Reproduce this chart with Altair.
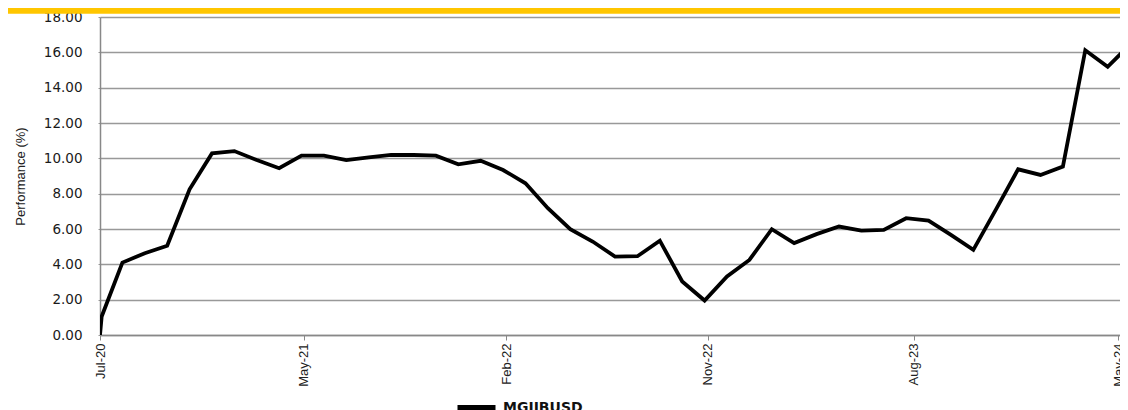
import json
import altair as alt
import pandas as pd

# ---- data ----
# x position in monthly steps (first two points: inception and first month-end)
steps = [0, 0.075] + list(range(1, 47))
perf = [0.00, 1.05, 4.10, 4.63, 5.05, 8.25, 10.28, 10.41, 9.90, 9.44,
        10.15, 10.15, 9.90, 10.06, 10.19, 10.19, 10.15, 9.66, 9.86, 9.34,
        8.59, 7.18, 5.99, 5.29, 4.44, 4.46, 5.34, 3.03, 1.95, 3.31,
        4.25, 5.99, 5.20, 5.71, 6.14, 5.91, 5.95, 6.61, 6.47, 5.67,
        4.82, 7.08, 9.38, 9.06, 9.53, 16.12, 15.18, 16.45]
series_name = "MGIIBUSD"
tick_pos = [0, 9.09, 18.15, 27.15, 36.33, 45.47]
tick_labels = ["Jul-20", "May-21", "Feb-22", "Nov-22", "Aug-23", "May-24"]
y_ticks = [0, 2, 4, 6, 8, 10, 12, 14, 16, 18]
x_extent = [0, 45.55]

df = pd.DataFrame({"t": steps, "perf": perf, "series": series_name})

label_expr = f"{json.dumps(tick_labels)}[indexof({json.dumps(tick_pos)}, datum.value)]"

SANS = "Liberation Sans, Arial, sans-serif"
PLOT_W = 1020
PLOT_H = 318

bar = alt.Chart(pd.DataFrame({"a": [0]})).mark_rect(color="#FFC600").encode(
    x=alt.value(-92), x2=alt.value(PLOT_W), y=alt.value(-9), y2=alt.value(-3.3)
)

line = alt.Chart(df).mark_line(strokeWidth=3.8, clip=True).encode(
    x=alt.X("t:Q",
            scale=alt.Scale(domain=x_extent, nice=False, zero=False),
            axis=alt.Axis(values=tick_pos, labelExpr=label_expr, labelAngle=270,
                          grid=False, title=None, tickSize=5, tickColor="#888888",
                          domainColor="#888888", domainWidth=1.5,
                          labelFont=SANS, labelFontSize=13, labelColor="#222222",
                          labelPadding=3, labelFlush=False, labelOverlap=False,
                          labelBound=False)),
    y=alt.Y("perf:Q",
            scale=alt.Scale(domain=[0, 18], nice=False),
            axis=alt.Axis(values=y_ticks, format=".2f", title="Performance (%)",
                          grid=True, gridColor="#999999", gridWidth=1.3,
                          tickSize=2, tickColor="#999999",
                          domainColor="#888888", domainWidth=1.5,
                          labelFont="DejaVu Sans", labelFontSize=13.5,
                          labelColor="#1a1a1a", labelPadding=16,
                          titleFont=SANS, titleFontSize=13,
                          titleFontWeight="normal", titleColor="#222222",
                          titleX=-80, titleBaseline="middle", titleAlign="center")),
    color=alt.Color("series:N",
                    scale=alt.Scale(domain=[series_name], range=["#000000"]),
                    legend=alt.Legend(title=None, orient="none", legendX=355, legendY=369,
                                      symbolType="stroke", symbolSize=1444,
                                      symbolStrokeWidth=5, padding=0,
                                      labelFont="DejaVu Sans", labelFontSize=14,
                                      labelFontWeight="bold", labelColor="#111111",
                                      labelOffset=5)),
)

chart = alt.layer(bar, line).properties(
    width=PLOT_W, height=PLOT_H,
    padding={"left": 92, "top": 9, "right": 0, "bottom": 85},
    autosize=alt.AutoSizeParams(type="none"),
    background="white",
).configure_view(stroke=None)

chart.save("out.html", embed_options={"renderer": "svg", "actions": False})
